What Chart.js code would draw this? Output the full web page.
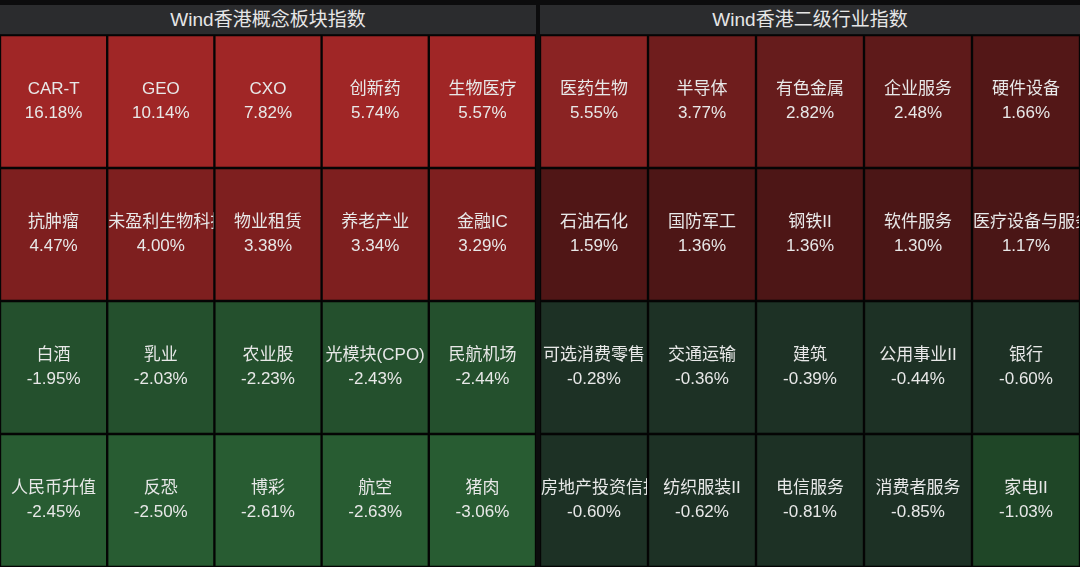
<!DOCTYPE html>
<html><head><meta charset="utf-8">
<script src="https://cdn.jsdelivr.net/npm/chart.js@4"></script>
<style>
body{margin:0;background:#0c0c0d;width:1080px;height:567px;overflow:hidden;font-family:"Liberation Sans","Noto Sans CJK SC",sans-serif}
.hd{position:absolute;top:5px;height:29px;background:#2b2c2e;color:#e6e6e6;font-size:19px;line-height:29px;text-align:center}
.pn{position:absolute;top:35px;height:532px}
</style></head><body>
<div class="hd" style="left:0;width:536px">Wind香港概念板块指数</div>
<div class="hd" style="left:540px;width:540px">Wind香港二级行业指数</div>
<div class="pn" style="left:0;width:536px"><canvas id="c1"></canvas></div>
<div class="pn" style="left:540px;width:540px"><canvas id="c2"></canvas></div>
<script>
const leftNames=[["CAR-T","GEO","CXO","创新药","生物医疗"],["抗肿瘤","未盈利生物科技","物业租赁","养老产业","金融IC"],["白酒","乳业","农业股","光模块(CPO)","民航机场"],["人民币升值","反恐","博彩","航空","猪肉"]];
const leftValues=[[16.18,10.14,7.82,5.74,5.57],[4.47,4.00,3.38,3.34,3.29],[-1.95,-2.03,-2.23,-2.43,-2.44],[-2.45,-2.50,-2.61,-2.63,-3.06]];
const rightNames=[["医药生物","半导体","有色金属","企业服务","硬件设备"],["石油石化","国防军工","钢铁II","软件服务","医疗设备与服务"],["可选消费零售","交通运输","建筑","公用事业II","银行"],["房地产投资信托","纺织服装II","电信服务","消费者服务","家电II"]];
const rightValues=[[5.55,3.77,2.82,2.48,1.66],[1.59,1.36,1.36,1.30,1.17],[-0.28,-0.36,-0.39,-0.44,-0.60],[-0.60,-0.62,-0.81,-0.85,-1.03]];
const leftColors=[["#a02626","#a02626","#a02626","#a02626","#a02626"],["#7e1f1f","#7e1f1f","#7e1f1f","#7e1f1f","#7e1f1f"],["#24502d","#24502d","#24502d","#24502d","#24502d"],["#285c32","#285c32","#285c32","#285c32","#285c32"]];
const rightColors=[["#8a2323","#6f1d1d","#661c1c","#5e1a1a","#531717"],["#501616","#4d1616","#4d1616","#4b1616","#4a1616"],["#1d3125","#1d3125","#1d3125","#1d3125","#1d3125"],["#1d3125","#1d3125","#1d3125","#1d3125","#1f4627"]];
const labelPlugin={id:'lbl',afterDatasetsDraw(ch){const ctx=ch.ctx;const names=ch.options.plugins.lbl.names,vals=ch.options.plugins.lbl.vals;
ctx.save();ctx.beginPath();ctx.rect(ch.chartArea.left,ch.chartArea.top,ch.chartArea.width,ch.chartArea.height);ctx.clip();
ctx.fillStyle='#e8e8e8';ctx.font='17px "Liberation Sans","Noto Sans CJK SC"';ctx.textAlign='center';ctx.textBaseline='middle';
ch.data.datasets.forEach((ds,r)=>{ch.getDatasetMeta(r).data.forEach((b,c)=>{const cx=b.x,cy=(b.y+b.base)/2;
const v=vals[r][c];const nm=names[r][c];const w=Math.abs(b.width);
ctx.save();ctx.beginPath();ctx.rect(cx-w/2+1,cy-60,w-2,120);ctx.clip();
const tw=ctx.measureText(nm).width;const over=tw>w-2;ctx.textAlign=over?'left':'center';ctx.fillText(nm,over?cx-w/2+1:cx,cy-12);ctx.restore();
ctx.textAlign='center';ctx.fillText(v.toFixed(2)+'%',cx,cy+12);});});ctx.restore();}};
function make(id,names,vals,colors){
const datasets=vals.map((row,r)=>({data:row.map(()=>[r,r+1]),backgroundColor:colors[r],borderColor:'#050505',borderWidth:1.5,borderSkipped:false,categoryPercentage:1,barPercentage:1,grouped:false}));
new Chart(document.getElementById(id),{type:'bar',data:{labels:names[0].map((_,i)=>i),datasets},
options:{responsive:true,maintainAspectRatio:false,animation:false,layout:{padding:0},
scales:{x:{display:false},y:{display:false,min:0,max:4,reverse:true}},
plugins:{legend:{display:false},tooltip:{enabled:false},lbl:{names,vals}}},plugins:[labelPlugin]});}
make('c1',leftNames,leftValues,leftColors);
make('c2',rightNames,rightValues,rightColors);
</script></body></html>
